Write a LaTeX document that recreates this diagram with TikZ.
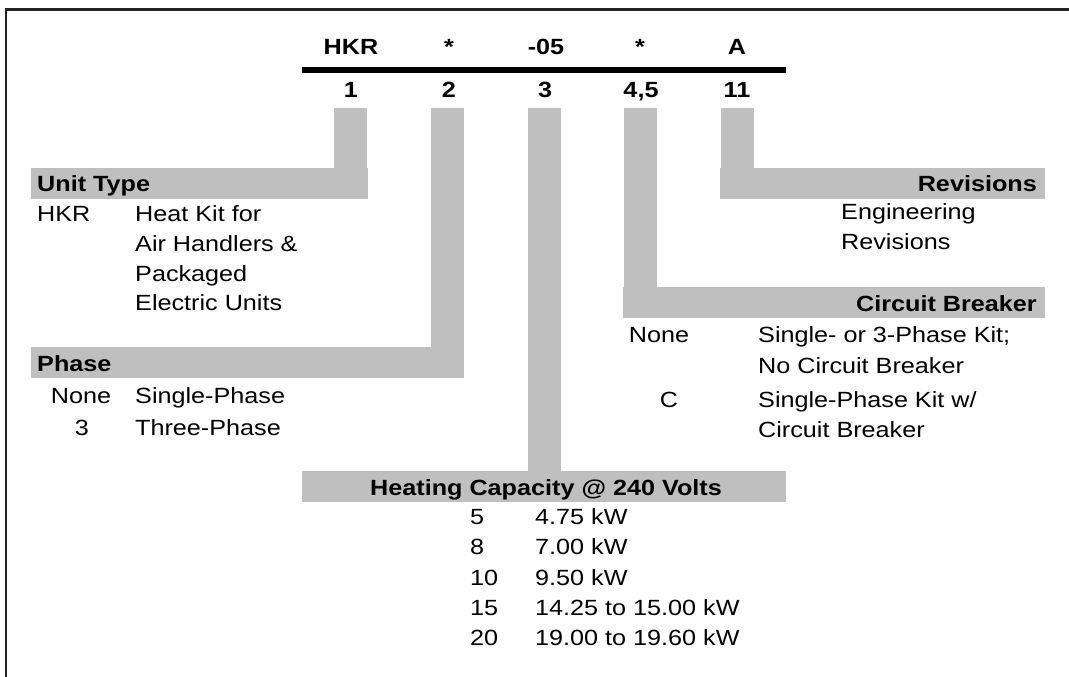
\documentclass[tikz,border=0pt]{standalone}
\usepackage{fontspec}
\setmainfont{Liberation Sans}[FakeStretch=1.145]
\definecolor{barg}{RGB}{191,191,191}
\definecolor{frameg}{RGB}{35,35,35}
\begin{document}
\begin{tikzpicture}[x=1pt,y=-1pt,
  txt/.style={inner sep=0pt, font=\fontsize{22}{26}\selectfont},
  hd/.style={inner sep=0pt, font=\fontsize{22}{26}\selectfont\bfseries},
  bar/.style={fill=barg, draw=none}]
\useasboundingbox (0,0) rectangle (1069,677);
\fill[white] (0,0) rectangle (1069,677);
\draw[frameg, line width=2.2pt] (6,677) -- (6,9.5) -- (1069,9.5);

% code rule
\fill[black] (302,67) rectangle (786,73);

% code letters
\node[hd, anchor=base] (c1) at (351,55) {HKR};
\node[hd, anchor=base] (c2) at (449,55) {*};
\node[hd, anchor=base] (c3) at (546,55) {-05};
\node[hd, anchor=base] (c4) at (640,55) {*};
\node[hd, anchor=base] (c5) at (737,55) {A};
% position numbers
\node[hd, anchor=base] (p1) at (351,97) {1};
\node[hd, anchor=base] (p2) at (449,97) {2};
\node[hd, anchor=base] (p3) at (545,97) {3};
\node[hd, anchor=base] (p4) at (641,97) {4,5};
\node[hd, anchor=base] (p5) at (737,97) {11};

% grey leaders and heading bars
\fill[bar] (334,108) rectangle (367,168);
\fill[bar] (31,168) rectangle (368,199);
\fill[bar] (431,108) rectangle (464,347);
\fill[bar] (31,347) rectangle (464,378);
\fill[bar] (528,108) rectangle (561,471);
\fill[bar] (302,471) rectangle (786,502);
\fill[bar] (624,108) rectangle (657,287);
\fill[bar] (623,287) rectangle (1045,318);
\fill[bar] (721,108) rectangle (754,168);
\fill[bar] (720,168) rectangle (1045,199);

% Unit Type
\node[hd, anchor=base west] (ut) at (37,191) {Unit Type};
\node[txt, anchor=base west] (ut1k) at (37,221) {HKR};
\node[txt, anchor=base west] (ut1a) at (135,221) {Heat Kit for};
\node[txt, anchor=base west] (ut1b) at (135,251) {Air Handlers \&};
\node[txt, anchor=base west] (ut1c) at (135,281) {Packaged};
\node[txt, anchor=base west] (ut1d) at (135,310) {Electric Units};

% Phase
\node[hd, anchor=base west] (ph) at (37,371) {Phase};
\node[txt, anchor=base] (ph1k) at (81,403) {None};
\node[txt, anchor=base west] (ph1) at (135,403) {Single-Phase};
\node[txt, anchor=base] (ph2k) at (82,435) {3};
\node[txt, anchor=base west] (ph2) at (135,435) {Three-Phase};

% Heating Capacity
\node[hd, anchor=base] (hc) at (546,495) {Heating Capacity @ 240 Volts};
\node[txt, anchor=base west] (hc1k) at (470,524) {5};
\node[txt, anchor=base west] (hc1) at (535,524) {4.75 kW};
\node[txt, anchor=base west] (hc2k) at (470,554) {8};
\node[txt, anchor=base west] (hc2) at (535,554) {7.00 kW};
\node[txt, anchor=base west] (hc3k) at (470,585) {10};
\node[txt, anchor=base west] (hc3) at (535,585) {9.50 kW};
\node[txt, anchor=base west] (hc4k) at (470,615) {15};
\node[txt, anchor=base west] (hc4) at (535,615) {14.25 to 15.00 kW};
\node[txt, anchor=base west] (hc5k) at (470,645) {20};
\node[txt, anchor=base west] (hc5) at (535,645) {19.00 to 19.60 kW};

% Circuit Breaker
\node[hd, anchor=base east] (cb) at (1037,311) {Circuit Breaker};
\node[txt, anchor=base] (cb1k) at (659,342) {None};
\node[txt, anchor=base west] (cb1a) at (758,342) {Single- or 3-Phase Kit;};
\node[txt, anchor=base west] (cb1b) at (758,373) {No Circuit Breaker};
\node[txt, anchor=base] (cb2k) at (669,407) {C};
\node[txt, anchor=base west] (cb2a) at (758,407) {Single-Phase Kit w/};
\node[txt, anchor=base west] (cb2b) at (758,437) {Circuit Breaker};

% Revisions
\node[hd, anchor=base east] (rv) at (1037,191) {Revisions};
\node[txt, anchor=base west] (rv1) at (841,219) {Engineering};
\node[txt, anchor=base west] (rv2) at (841,249) {Revisions};
\end{tikzpicture}
\end{document}
